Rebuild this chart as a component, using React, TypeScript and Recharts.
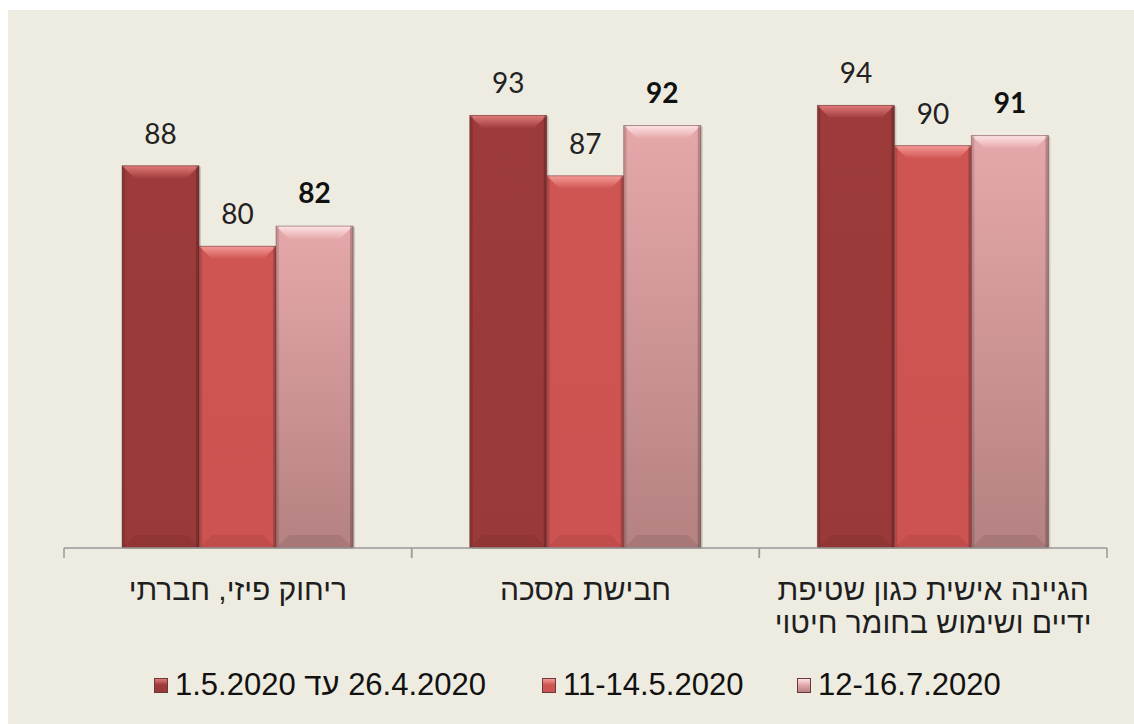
import { BarChart, Bar, XAxis, YAxis, LabelList } from "recharts";

// categories, left to right as drawn (the source chart is RTL)
const categories = ["ריחוק פיזי, חברתי", "חבישת מסכה", "הגיינה אישית כגון שטיפת ידיים ושימוש בחומר חיטוי"];
const tickLines = [
  ["ריחוק פיזי, חברתי"],
  ["חבישת מסכה"],
  ["הגיינה אישית כגון שטיפת", "ידיים ושימוש בחומר חיטוי"],
];

const seriesNames = ["26.4.2020 עד 1.5.2020", "11-14.5.2020", "12-16.7.2020"];
const aprilMay = [88, 93, 94];
const midMay = [80, 87, 90];
const july = [82, 92, 91];

const data = categories.map((c, i) => ({
  name: c,
  s1: aprilMay[i],
  s2: midMay[i],
  s3: july[i],
}));

const W = 1126;
const H = 640;
const M = { top: 27, right: 27, left: 56, bottom: 0 };
const BAND = (W - M.left - M.right) / categories.length;

const styles = [
  { base: "#9d3b3b", top: "#e07a78", bottomEdge: "#7e2c2c", baseEnd: "#9a3939" },
  { base: "#cf5553", top: "#f59a96", bottomEdge: "#a84242", baseEnd: "#cc5351" },
  { base: "#e6a8aa", top: "#fde3e4", bottomEdge: "#8f6767", baseEnd: "#b58181" },
];

// legend item left edges (relative to the chart box)
const legendLeft = [146, 534, 789];

const makeShape = (si: number) => (props: any) => {
  const { x, y, width, height, index } = props;
  const st = styles[si];
  const b = Math.min(13, width / 4);
  const id = `g${si}-${index}`;
  return (
    <g>
      <defs>
        <linearGradient id={`${id}-body`} x1="0" y1="0" x2="0" y2="1">
          <stop offset="0" stopColor={st.base} />
          <stop offset="1" stopColor={st.baseEnd} />
        </linearGradient>
        <linearGradient id={`${id}-top`} x1="0" y1="0" x2="0" y2="1">
          <stop offset="0" stopColor={st.top} />
          <stop offset="1" stopColor={st.base} />
        </linearGradient>
      </defs>
      <rect x={x + 2} y={y + 1} width={width} height={height} fill="#000" opacity={0.15} />
      <rect x={x} y={y} width={width} height={height} fill={`url(#${id}-body)`} />
      <polygon
        points={`${x},${y} ${x + width},${y} ${x + width - b},${y + b} ${x + b},${y + b}`}
        fill={`url(#${id}-top)`}
      />
      <polygon
        points={`${x},${y + height} ${x + width},${y + height} ${x + width - b},${y + height - b} ${x + b},${y + height - b}`}
        fill={st.bottomEdge}
        opacity={0.35}
      />
      <rect x={x} y={y} width={3} height={height} fill="#000" opacity={0.12} />
      <rect x={x + width - 3} y={y} width={3} height={height} fill="#000" opacity={0.2} />
      <rect x={x} y={y} width={width} height={height} fill="none" stroke="#5b2a2a" strokeOpacity={0.45} />
    </g>
  );
};

const CategoryTick = (props: any) => {
  const { x, y, payload } = props;
  const lines = tickLines[payload.index] || [payload.value];
  return (
    <g>
      <line x1={x - BAND / 2} y1={y} x2={x - BAND / 2} y2={y + 10} stroke="#9a9a9a" strokeWidth={1.5} />
      <line x1={x + BAND / 2} y1={y} x2={x + BAND / 2} y2={y + 10} stroke="#9a9a9a" strokeWidth={1.5} />
      {lines.map((l, i) => (
        <text
          key={i}
          x={x}
          y={y + 52 + i * 33}
          textAnchor="middle"
          direction="rtl"
          fontFamily="Liberation Sans, Arial, sans-serif"
          fontSize={30}
          fill="#1e1e1e"
        >
          {l}
        </text>
      ))}
    </g>
  );
};

const labelFont = "Lato, 'Open Sans', sans-serif";

export default function App() {
  return (
    <div
      style={{
        position: "absolute",
        left: 8,
        top: 10,
        width: W,
        height: 714,
        background: "#eeece1",
      }}
    >
      <BarChart width={W} height={H} data={data} margin={M} barCategoryGap="16.7%" barGap={0}>
        <YAxis hide domain={[50, 100.8]} />
        <XAxis
          dataKey="name"
          height={H - 538}
          interval={0}
          tickSize={0}
          tickMargin={0}
          tickLine={false}
          axisLine={{ stroke: "#9a9a9a", strokeWidth: 1.5 }}
          tick={<CategoryTick />}
        />
        <Bar dataKey="s1" name={seriesNames[0]} shape={makeShape(0)} isAnimationActive={false}>
          <LabelList dataKey="s1" position="top" offset={22} fill="#222" fontSize={28} fontFamily={labelFont} />
        </Bar>
        <Bar dataKey="s2" name={seriesNames[1]} shape={makeShape(1)} isAnimationActive={false}>
          <LabelList dataKey="s2" position="top" offset={22} fill="#222" fontSize={28} fontFamily={labelFont} />
        </Bar>
        <Bar dataKey="s3" name={seriesNames[2]} shape={makeShape(2)} isAnimationActive={false}>
          <LabelList
            dataKey="s3"
            position="top"
            offset={23}
            fill="#111"
            fontSize={28}
            fontWeight="bold"
            fontFamily={labelFont}
          />
        </Bar>
      </BarChart>
      {seriesNames.map((n, i) => (
        <div
          key={n}
          style={{
            position: "absolute",
            left: legendLeft[i],
            top: 660,
            display: "flex",
            alignItems: "center",
            fontFamily: "Liberation Sans, Arial, sans-serif",
            fontSize: 31,
            lineHeight: "30px",
            color: "#111",
            whiteSpace: "nowrap",
          }}
        >
          <span
            style={{
              display: "inline-block",
              width: 14,
              height: 15,
              marginRight: 7,
              background: `linear-gradient(${styles[i].top}, ${styles[i].base} 45%, ${styles[i].baseEnd})`,
              border: "1px solid #6a3a3a",
              boxSizing: "border-box",
            }}
          />
          <span dir="rtl">{n}</span>
        </div>
      ))}
    </div>
  );
}
